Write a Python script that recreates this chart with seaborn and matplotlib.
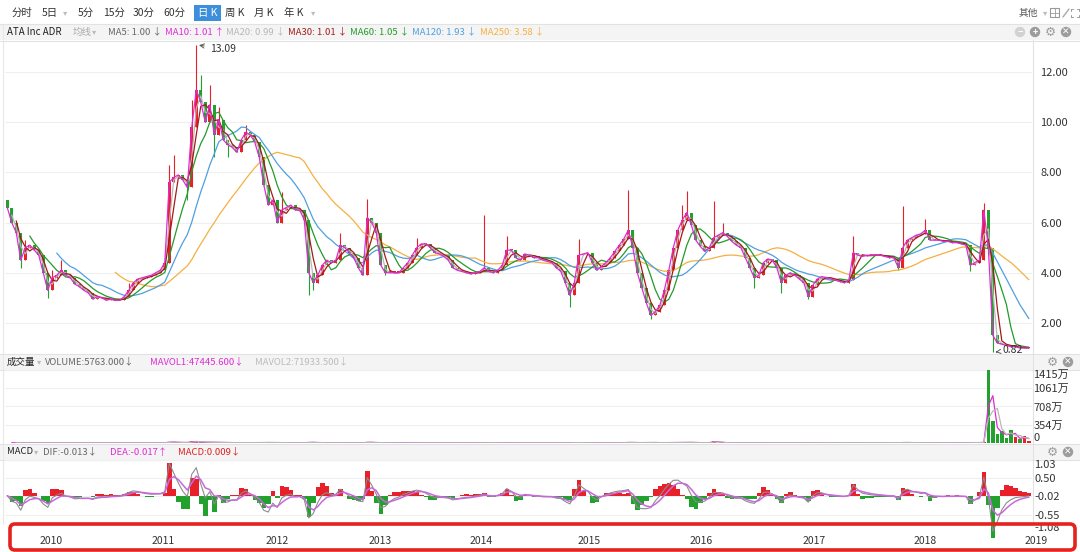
import numpy as np
import pandas as pd
import matplotlib
matplotlib.use("Agg")
import matplotlib.pyplot as plt
from matplotlib.patches import Rectangle, FancyBboxPatch, Circle
from matplotlib.transforms import blended_transform_factory
import seaborn as sns

sns.set_style("white")
plt.rcParams["font.family"] = ["Noto Sans CJK SC", "DejaVu Sans"]

# ---- data: one bar ~ 10 trading days, Aug 2009 -> Jan 2019 ----
close = [
    6.6, 6.0, 5.6, 4.5, 5.0, 5.1, 4.9, 4.7, 4.0, 3.3, 3.8, 3.9,
    4.1, 3.9, 3.8, 3.55, 3.45, 3.3, 3.2, 2.95, 3.05, 3.0, 2.9, 2.95,
    2.9, 2.9, 3.05, 3.3, 3.6, 3.75, 3.8, 3.85, 3.9, 4.0, 4.1, 4.4,
    7.6, 7.8, 7.9, 7.7, 7.4, 9.8, 11.3, 10.8, 10.0, 10.7, 9.5, 10.1,
    9.3, 9.1, 9.0, 8.8, 9.3, 9.6, 9.5, 9.2, 8.6, 7.5, 6.7, 6.9,
    6.0, 6.5, 6.6, 6.7, 6.5, 6.5, 6.1, 4.0, 3.6, 3.9, 4.3, 4.5,
    4.4, 4.5, 5.1, 5.0, 4.8, 4.6, 4.2, 3.9, 6.2, 6.0, 5.6, 4.3,
    4.0, 4.0, 4.0, 4.0, 4.2, 4.4, 4.7, 5.0, 5.15, 5.15, 5.0, 4.8,
    4.75, 4.65, 4.5, 4.2, 4.1, 4.05, 4.0, 3.95, 4.0, 4.05, 4.2, 4.05,
    4.0, 4.1, 4.3, 4.9, 4.9, 4.6, 4.5, 4.75, 4.7, 4.6, 4.6, 4.5,
    4.45, 4.4, 4.2, 4.05, 3.6, 3.1, 3.6, 4.7, 4.75, 4.8, 4.4, 4.1,
    4.25, 4.4, 4.6, 4.85, 5.1, 5.35, 5.7, 5.0, 4.0, 3.4, 2.8, 2.3,
    2.45, 2.7, 3.3, 4.1, 5.0, 5.7, 6.1, 6.4, 5.9, 5.3, 5.05, 4.85,
    5.0, 5.4, 5.5, 5.6, 5.45, 5.25, 5.1, 5.0, 4.6, 4.2, 3.8, 3.9,
    4.4, 4.55, 4.5, 4.2, 3.6, 3.9, 4.0, 3.9, 3.75, 3.6, 3.05, 3.5,
    3.75, 3.85, 3.8, 3.75, 3.7, 3.65, 3.6, 3.7, 4.8, 4.7, 4.65, 4.7,
    4.7, 4.7, 4.7, 4.65, 4.6, 4.6, 4.2, 5.0, 5.3, 5.4, 5.5, 5.55,
    5.7, 5.3, 5.3, 5.3, 5.25, 5.25, 5.2, 5.2, 5.15, 5.1, 4.3, 4.4,
    4.5, 6.5, 5.0, 1.5, 1.2, 1.15, 1.1, 1.05, 1.05, 1.0, 1.0, 1.0,
]
first_open = 6.9

# intrabar extremes worth showing (bar -> price)
bar_high = {0: 6.9, 4: 5.3, 10: 4.1, 12: 4.5, 27: 3.6, 36: 8.3, 37: 8.7, 41: 10.9,
            42: 13.09, 43: 11.9, 45: 11.5, 47: 10.6, 53: 9.9, 61: 7.2, 74: 5.6,
            80: 6.95, 91: 5.4, 106: 6.3, 111: 5.45, 127: 5.35, 138: 7.3, 150: 6.7,
            151: 7.25, 157: 6.85, 159: 6.0, 188: 5.45, 199: 6.65, 204: 6.15,
            217: 6.8, 219: 2.6}
bar_low = {3: 4.2, 9: 3.0, 40: 6.9, 46: 8.6, 49: 8.6, 67: 3.1, 68: 3.3, 84: 3.9,
           125: 2.65, 143: 2.15, 166: 3.4, 172: 3.2, 178: 2.95, 198: 4.1,
           214: 4.05, 219: 0.82}

# daily volume, 万股
volume = [
    4, 3, 4, 5, 3, 3, 3, 3, 4, 5, 3, 3,
    3, 2, 2, 3, 3, 2, 3, 3, 2, 2, 2, 2,
    2, 3, 3, 4, 3, 3, 3, 3, 3, 3, 4, 5,
    25, 14, 10, 9, 11, 30, 28, 18, 14, 15, 12, 10,
    8, 7, 7, 6, 7, 8, 7, 6, 7, 9, 10, 7,
    8, 6, 5, 4, 4, 4, 6, 16, 10, 6, 5, 4,
    4, 4, 7, 5, 4, 4, 4, 5, 20, 8, 6, 7,
    4, 3, 3, 3, 3, 4, 4, 5, 4, 4, 3, 3,
    3, 3, 3, 3, 3, 2, 2, 2, 3, 3, 12, 3,
    3, 3, 4, 7, 4, 3, 3, 4, 3, 3, 3, 3,
    3, 2, 3, 3, 6, 9, 5, 10, 4, 4, 4, 3,
    3, 3, 4, 4, 5, 6, 14, 7, 7, 8, 9, 12,
    7, 6, 7, 8, 9, 10, 11, 14, 9, 7, 6, 5,
    6, 45, 7, 6, 5, 4, 4, 4, 5, 6, 7, 5,
    4, 4, 4, 4, 6, 5, 4, 3, 3, 4, 7, 4,
    3, 3, 3, 3, 3, 3, 3, 3, 10, 5, 4, 3,
    3, 3, 3, 3, 3, 3, 5, 12, 7, 6, 5, 6,
    8, 4, 4, 4, 3, 3, 3, 3, 3, 4, 10, 6,
    5, 20, 1415, 420, 180, 230, 90, 260, 110, 70, 140, 40,
]

years = ["2010", "2011", "2012", "2013", "2014", "2015", "2016", "2017", "2018", "2019"]
year_bar = [9.7, 34.6, 59.9, 82.8, 105.3, 129.3, 154.2, 179.3, 203.9, 228.6]

price_ticks = [2, 4, 6, 8, 10, 12]
vol_ticks = [0, 354, 708, 1061, 1415]
vol_labels = ["0", "354万", "708万", "1061万", "1415万"]
macd_ticks = [-1.08, -0.55, -0.02, 0.50, 1.03]

ma_names = ["MA5", "MA10", "MA20", "MA30", "MA60", "MA120", "MA250"]
ma_values = ["1.00", "1.01", "0.99", "1.01", "1.05", "1.93", "3.58"]
ma_arrows = ["↓", "↑", "↓", "↓", "↓", "↓", "↓"]
ma_windows = [1, 1, 2, 3, 6, 12, 25]  # in bars
ma_colors = ["#666666", "#e02bd6", "#b8b8b8", "#a31a1a", "#239a2a", "#4f9fe0", "#f5b042"]

RED, GREEN = "#e8202a", "#23a12e"
W, H = 1080, 552

# ---- derived series ----
n = len(close)
idx = np.arange(n)
c = np.array(close, dtype=float)
o = np.r_[first_open, c[:-1]]
hi = np.maximum(o, c)
lo = np.minimum(o, c)
for k, v in bar_high.items():
    hi[k] = max(hi[k], v)
for k, v in bar_low.items():
    lo[k] = min(lo[k], v)
up = c >= o
col = np.where(up, RED, GREEN)

df = pd.DataFrame({"bar": idx, "close": c, "vol": volume})
for name, w in zip(ma_names, ma_windows):
    df[name] = df["close"].rolling(w).mean()
df["mavol1"] = df["vol"].rolling(2).mean()
df["mavol2"] = df["vol"].rolling(3).mean()
ema_fast = df["close"].ewm(alpha=0.81, adjust=False).mean()
ema_slow = df["close"].ewm(alpha=0.54, adjust=False).mean()
df["dif"] = ema_fast - ema_slow
df["dea"] = df["dif"].ewm(alpha=0.45, adjust=False).mean()
df["hist"] = 2 * (df["dif"] - df["dea"])


def box(x0, y0, x1, y1):
    return [x0 / W, 1 - y1 / H, (x1 - x0) / W, (y1 - y0) / H]


fig = plt.figure(figsize=(10.8, 5.52), dpi=100)
fig.patch.set_facecolor("white")

# background / chrome layer in pixel coordinates
bg = fig.add_axes([0, 0, 1, 1], zorder=-5)
bg.set_xlim(0, W)
bg.set_ylim(H, 0)
bg.axis("off")

for y0 in (24, 354, 444):
    bg.add_patch(Rectangle((0, y0), W, 16, fc="#f4f4f4", ec="none"))
for y in (23.5, 40.5, 353.5, 369.5, 443.5, 459.5):
    bg.plot([0, W], [y, y], color="#e2e2e2", lw=0.8)
bg.plot([1032.5, 1032.5], [40, 524], color="#e2e2e2", lw=0.8)
bg.plot([3, 3], [24, 524], color="#e8e8e8", lw=0.8)


def t(x, y, s, color="#333333", size=7, ha="left", **kw):
    bg.text(x, y, s, color=color, fontsize=size, ha=ha, va="center", **kw)


# toolbar
for x, s in [(12, "分时"), (42, "5日"), (78, "5分"), (103, "15分"), (133, "30分"),
             (163, "60分"), (225, "周 K"), (254, "月 K"), (284, "年 K")]:
    t(x, 13, s, size=7.5)
t(63, 13, "▾", color="#bbbbbb", size=6)
t(311, 13, "▾", color="#bbbbbb", size=6)
bg.add_patch(Rectangle((194, 5), 27, 16, fc="#3d8fdc", ec="none"))
t(207.5, 13, "日 K", color="white", size=7.5, ha="center")
t(1019, 13, "其他", color="#555555", size=7)
t(1043, 13, "▾", color="#bbbbbb", size=6)
bg.add_patch(Rectangle((1050, 8), 9, 9, fc="none", ec="#999999", lw=0.8))
bg.plot([1050, 1059], [12.5, 12.5], color="#999999", lw=0.6)
bg.plot([1054.5, 1054.5], [8, 17], color="#999999", lw=0.6)
bg.plot([1063, 1069], [17, 9], color="#aaaaaa", lw=1.0)
for dx, dy in [(-1, -1), (1, -1), (-1, 1), (1, 1)]:
    bg.plot([1075 + dx * 2, 1075 + dx * 4], [13 + dy * 4, 13 + dy * 4], color="#999999", lw=0.7)
    bg.plot([1075 + dx * 4, 1075 + dx * 4], [13 + dy * 2, 13 + dy * 4], color="#999999", lw=0.7)

# MA legend row
t(7, 32, "ATA Inc ADR", color="#222222", size=7)
t(73, 32, "均线", color="#aaaaaa", size=6.8)
t(92, 32, "▾", color="#bbbbbb", size=6)
ma_x = [108, 165, 226, 288, 350, 412, 480]
for x, name, val, arr, colr in zip(ma_x, ma_names, ma_values, ma_arrows, ma_colors):
    t(x, 32, f"{name}: {val} {arr}", color=colr, size=6.8)


def icons(xs, y, kinds):
    for x, k in zip(xs, kinds):
        fc = "#d2d2d2" if k == "−" else "#9c9c9c"
        if k == "⚙":
            t(x, y, "⚙", color="#9c9c9c", size=9, ha="center")
        else:
            bg.add_patch(Circle((x, y), 5.2, fc=fc, ec="none"))
            t(x, y, k, color="white", size=6.5, ha="center", fontweight="bold")


icons([1020, 1035, 1050, 1066], 32, ["−", "+", "⚙", "✕"])
icons([1052, 1068], 362, ["⚙", "✕"])
icons([1052, 1068], 452, ["⚙", "✕"])

# volume header
t(7, 362, "成交量", color="#222222", size=6.8)
t(37, 362, "▾", color="#bbbbbb", size=6)
t(45, 362, "VOLUME:5763.000↓", color="#666666", size=6.8)
t(150, 362, "MAVOL1:47445.600↓", color="#e02bd6", size=6.8)
t(255, 362, "MAVOL2:71933.500↓", color="#bbbbbb", size=6.8)

# MACD header
t(7, 452, "MACD", color="#222222", size=6.8)
t(34, 452, "▾", color="#bbbbbb", size=6)
t(43, 452, "DIF:-0.013↓", color="#666666", size=6.8)
t(110, 452, "DEA:-0.017↑", color="#e02bd6", size=6.8)
t(178, 452, "MACD:0.009↓", color="#e02020", size=6.8)


def panel(ax, ticks, labels, pad):
    ax.set_facecolor("none")
    ax.set_xlim(-0.5, 227.7)
    ax.set_xticks([])
    ax.yaxis.tick_right()
    ax.set_yticks(ticks)
    ax.set_yticklabels(labels, fontsize=8, color="#333333")
    ax.tick_params(axis="y", length=0, pad=pad)
    ax.grid(axis="y", color="#efefef", lw=0.8)
    ax.set_axisbelow(True)
    for s in ax.spines.values():
        s.set_visible(False)
    ax.set_xlabel("")
    ax.set_ylabel("")


# ---- price panel ----
ax_p = fig.add_axes(box(5, 41, 1032, 353))
ax_p.vlines(idx, lo, hi, colors=col, lw=0.8, zorder=2)
body_lo = np.minimum(o, c)
ax_p.bar(idx, np.maximum(np.abs(c - o), 0.05), bottom=body_lo, width=0.62,
         color=col, lw=0, zorder=2)
order = ["MA250", "MA120", "MA60", "MA20", "MA30", "MA10"]
for name in order:
    k = ma_names.index(name)
    sns.lineplot(data=df, x="bar", y=name, ax=ax_p, color=ma_colors[k],
                 linewidth=0.9, legend=False, zorder=3)
ax_p.set_ylim(0.8, 13.24)
panel(ax_p, price_ticks, [f"{v:.2f}" for v in price_ticks], 6)
ax_p.annotate("13.09", xy=(42, 13.09), xytext=(10, -3), textcoords="offset points",
              fontsize=7.5, color="#333333", va="center",
              arrowprops=dict(arrowstyle="->", color="#555555", lw=0.7))
ax_p.annotate("0.82", xy=(219, 0.82), xytext=(7, 2), textcoords="offset points",
              fontsize=7.5, color="#333333", va="center",
              arrowprops=dict(arrowstyle="->", color="#555555", lw=0.7))

# ---- volume panel ----
ax_v = fig.add_axes(box(5, 370, 1032, 443))
ax_v.bar(idx, df["vol"], width=0.8, color=col, lw=0, zorder=2)
sns.lineplot(data=df, x="bar", y="mavol1", ax=ax_v, color="#e02bd6", linewidth=0.9, legend=False, zorder=3)
sns.lineplot(data=df, x="bar", y="mavol2", ax=ax_v, color="#b8b8b8", linewidth=0.9, legend=False, zorder=3)
ax_v.set_ylim(0, 1415)
panel(ax_v, vol_ticks, vol_labels, 1)
lbls = ax_v.get_yticklabels()
lbls[0].set_va("bottom")
lbls[-1].set_va("top")

# ---- MACD panel ----
ax_m = fig.add_axes(box(5, 460, 1032, 533))
hcol = np.where(df["hist"] >= 0, RED, GREEN)
ax_m.bar(idx, df["hist"], width=1.0, color=hcol, lw=0, zorder=2, clip_on=False)
sns.lineplot(data=df, x="bar", y="dif", ax=ax_m, color="#8c8c8c", linewidth=0.8, legend=False, zorder=3)
sns.lineplot(data=df, x="bar", y="dea", ax=ax_m, color="#c968dc", linewidth=1.1, legend=False, zorder=3)
ax_m.set_ylim(-1.08, 1.03)
panel(ax_m, macd_ticks, [f"{v:.2f}" for v in macd_ticks], 1.5)
mlbl = ax_m.get_yticklabels()
mlbl[0].set_va("bottom")
mlbl[-1].set_va("top")

# ---- date labels and red highlight box ----
top = fig.add_axes([0, 0, 1, 1], zorder=10)
top.set_xlim(0, W)
top.set_ylim(H, 0)
top.axis("off")
tr = blended_transform_factory(ax_m.transData, top.transData)
for yb, lab in zip(year_bar, years):
    top.text(yb, 541, lab, transform=tr, fontsize=7.5, color="#333333",
             ha="center", va="center")
top.add_patch(FancyBboxPatch((10, 524), 1065, 26,
                             boxstyle="round,pad=0,rounding_size=5",
                             fc="none", ec="#e5221d", lw=2.6))

fig.savefig("out.png", dpi=100)
